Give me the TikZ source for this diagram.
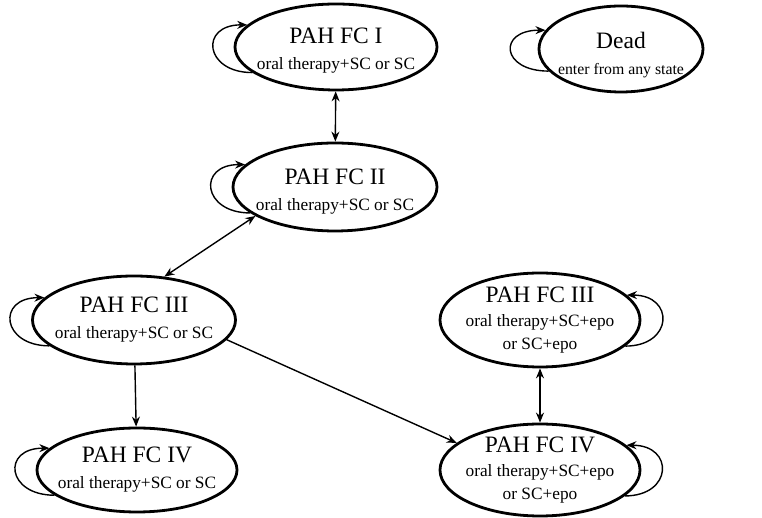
\documentclass[tikz,border=0pt]{standalone}
\usepackage{fontspec}
\setmainfont{Liberation Serif}
\usetikzlibrary{shapes.geometric,arrows.meta}
\newcommand{\statename}[1]{{\fontsize{23.5}{26}\selectfont #1}}
\begin{document}
\begin{tikzpicture}[x=1pt,y=1pt,
  state/.style={ellipse,draw=drawColor,line width=2.8pt,inner xsep=-14pt,inner ysep=-4pt,
    align=center,text=drawColor,font=\fontsize{17.3}{23}\selectfont},
  link/.style={draw=drawColor,line width=1.4pt,-{Stealth[length=10pt,width=8pt]}},
  both/.style={link,{Stealth[length=10pt,width=8pt]}-{Stealth[length=10pt,width=8pt]}}]
\definecolor{fillColor}{RGB}{255,255,255}
\definecolor{drawColor}{RGB}{0,0,0}
\path[use as bounding box,fill=fillColor] (0,0) rectangle (762,518);

% states
\node[state,minimum width=202,minimum height=86,text height=49pt] (fcI) at (336,471)
  {\statename{PAH FC I}\\[3pt]oral therapy+SC or SC};
\node[state,minimum width=164,minimum height=86,text height=54pt,inner xsep=-24pt,
  font=\fontsize{15.8}{23}\selectfont] (dead) at (621,469)
  {\statename{Dead}\\[3pt]enter from any state};
\node[state,minimum width=204,minimum height=88,text height=50pt] (fcII) at (335,331)
  {\statename{PAH FC II}\\[3pt]oral therapy+SC or SC};
\node[state,minimum width=203,minimum height=88] (fcIIIa) at (134,198)
  {\statename{PAH FC III}\\[3pt]oral therapy+SC or SC};
\node[state,minimum width=200,minimum height=94] (fcIIIb) at (540,198)
  {\statename{PAH FC III}\\[1pt]oral therapy+SC+epo\\or SC+epo};
\node[state,minimum width=200,minimum height=84] (fcIVa) at (137,48)
  {\statename{PAH FC IV}\\[3pt]oral therapy+SC or SC};
\node[state,minimum width=200,minimum height=92] (fcIVb) at (540,48)
  {\statename{PAH FC IV}\\[1pt]oral therapy+SC+epo\\or SC+epo};

% transitions
\draw[both] (fcI) -- (fcII);
\draw[both] (fcII.200) -- (fcIIIa.55);
\draw[link] (fcIIIa) -- (fcIVa);
\draw[link] (fcIIIa.-12) -- (fcIVb.162);
\draw[both] (fcIIIb) -- (fcIVb);

% self loops
\draw[link] (fcI.197) .. controls +(-48,0) and +(-48,0) .. (fcI.166);
\draw[link] (dead.197) .. controls +(-48,0) and +(-48,0) .. (dead.166);
\draw[link] (fcII.197) .. controls +(-48,0) and +(-48,0) .. (fcII.166);
\draw[link] (fcIIIa.197) .. controls +(-48,0) and +(-48,0) .. (fcIIIa.166);
\draw[link] (fcIVa.197) .. controls +(-48,0) and +(-48,0) .. (fcIVa.166);
\draw[link] (fcIIIb.-17) .. controls +(48,0) and +(48,0) .. (fcIIIb.16);
\draw[link] (fcIVb.-17) .. controls +(48,0) and +(48,0) .. (fcIVb.16);
\end{tikzpicture}
\end{document}
